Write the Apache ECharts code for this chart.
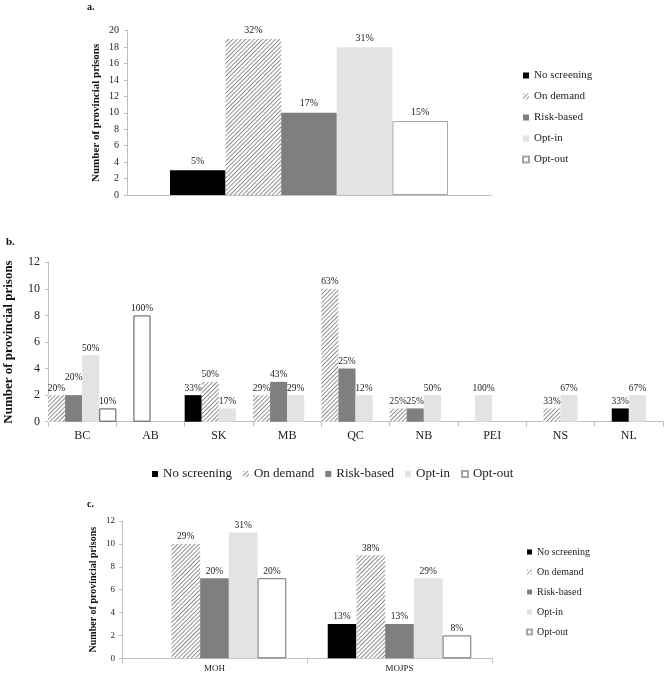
<!DOCTYPE html>
<html><head><meta charset="utf-8">
<script src="https://cdn.jsdelivr.net/npm/echarts@6/dist/echarts.min.js"></script>
<style>html,body{margin:0;padding:0;background:#fff}#c{width:667px;height:674px}</style>
</head><body><div id="c"></div>
<script>
// ---------- DATA ----------
const types = ['No screening', 'On demand', 'Risk-based', 'Opt-in', 'Opt-out'];

// Panel a: all provincial prisons
const valuesA = [3, 19, 10, 18, 9];
const pctA = ['5%', '32%', '17%', '31%', '15%'];

// Panel b: by province
const provinces = ['BC', 'AB', 'SK', 'MB', 'QC', 'NB', 'PEI', 'NS', 'NL'];
const noScreeningB = [0, 0, 2, 0, 0, 0, 0, 0, 1];
const onDemandB    = [2, 0, 3, 2, 10, 1, 0, 1, 0];
const riskBasedB   = [2, 0, 0, 3, 4, 1, 0, 0, 0];
const optInB       = [5, 0, 1, 2, 2, 2, 2, 2, 2];
const optOutB      = [1, 8, 0, 0, 0, 0, 0, 0, 0];
const pctNoScreeningB = ['', '', '33%', '', '', '', '', '', '33%'];
const pctOnDemandB    = ['20%', '', '50%', '29%', '63%', '25%', '', '33%', ''];
const pctRiskBasedB   = ['20%', '', '', '43%', '25%', '25%', '', '', ''];
const pctOptInB       = ['50%', '', '17%', '29%', '12%', '50%', '100%', '67%', '67%'];
const pctOptOutB      = ['10%', '100%', '', '', '', '', '', '', ''];

// Panel c: by ministry
const ministries = ['MOH', 'MOJPS'];
const noScreeningC = [0, 3];
const onDemandC    = [10, 9];
const riskBasedC   = [7, 3];
const optInC       = [11, 7];
const optOutC      = [7, 2];
const pctNoScreeningC = ['', '13%'];
const pctOnDemandC    = ['29%', '38%'];
const pctRiskBasedC   = ['20%', '13%'];
const pctOptInC       = ['31%', '29%'];
const pctOptOutC      = ['20%', '8%'];

// Axis ranges
const yMaxA = 20, yMaxB = 12, yMaxC = 12, yStep = 2;

// ---------- STYLE ----------
const serif = '"Liberation Serif","Times New Roman",serif';
const axisGray = '#bfbfbf';
const hatchDecal = { symbol: 'rect', symbolSize: 1, color: '#8f8f8f', dashArrayX: [1, 0], dashArrayY: [0.8, 1.4], rotation: -Math.PI / 4 };
function styleFor(t, border) {
  switch (t) {
    case 0: return { color: '#000000' };
    case 1: return { color: '#ffffff', decal: hatchDecal };
    case 2: return { color: '#7f7f7f' };
    case 3: return { color: '#e3e3e3' };
    case 4: return { color: '#ffffff', borderColor: border, borderWidth: 1 };
  }
}

// ---------- PANEL a series ----------
const series = [];
types.forEach((name, t) => {
  const d = [valuesA[t]];
  series.push({
    type: 'bar', name, xAxisIndex: 0, yAxisIndex: 0, data: d,
    barGap: 0, barCategoryGap: '23.6%',
    itemStyle: styleFor(t, '#a6a6a6'),
    label: { show: true, position: 'top', distance: 4, fontFamily: serif, fontSize: 10, color: '#222', formatter: () => pctA[t] }
  });
});

// ---------- PANEL b series (bars packed, centred in four slots per province) ----------
const valsB = [noScreeningB, onDemandB, riskBasedB, optInB, optOutB];
const pctB = [pctNoScreeningB, pctOnDemandB, pctRiskBasedB, pctOptInB, pctOptOutB];
const nSlots = 4;
const slots = [];
for (let s = 0; s < nSlots; s++) slots.push(provinces.map(() => '-'));
provinces.forEach((p, i) => {
  const present = [];
  valsB.forEach((arr, t) => { if (arr[i] > 0) present.push(t); });
  const start = Math.floor((nSlots - present.length) / 2);
  present.forEach((t, k) => {
    const item = { value: valsB[t][i], itemStyle: styleFor(t, '#555555'), label: { formatter: pctB[t][i] } };
    if (p === 'BC' && t === 2) item.label.offset = [0, -11];
    slots[start + k][i] = item;
  });
});
slots.forEach((d, s) => {
  series.push({
    type: 'bar', name: 'slot' + s, xAxisIndex: 1, yAxisIndex: 1, data: d,
    barGap: 0, barCategoryGap: 0,
    label: { show: true, position: 'top', distance: 2, fontFamily: serif, fontSize: 9.5, color: '#222' }
  });
});

// ---------- PANEL c series ----------
const valsC = [noScreeningC, onDemandC, riskBasedC, optInC, optOutC];
const pctC = [pctNoScreeningC, pctOnDemandC, pctRiskBasedC, pctOptInC, pctOptOutC];
types.forEach((name, t) => {
  series.push({
    type: 'bar', name, xAxisIndex: 2, yAxisIndex: 2,
    data: valsC[t].map(v => v > 0 ? v : '-'),
    barGap: 0, barCategoryGap: '22.4%',
    itemStyle: styleFor(t, '#6f6f6f'),
    label: { show: true, position: 'top', distance: 2, fontFamily: serif, fontSize: 9.5, color: '#222', formatter: p => pctC[t][p.dataIndex] }
  });
});

function yAxis(gi, max, fs, nameFs, gap, margin) {
  return {
    type: 'value', gridIndex: gi, min: 0, max, interval: yStep,
    name: 'Number of provincial prisons', nameLocation: 'middle', nameGap: gap, nameMoveOverlap: false,
    nameTextStyle: { fontFamily: serif, fontWeight: 'bold', fontSize: nameFs, color: '#111' },
    axisLine: { show: true, lineStyle: { color: axisGray } },
    axisTick: { show: true, length: 3, lineStyle: { color: axisGray } },
    splitLine: { show: false },
    axisLabel: { fontFamily: serif, fontSize: fs, color: '#222', margin }
  };
}
function xAxis(gi, data, fs, margin, tick) {
  return {
    type: 'category', gridIndex: gi, data,
    axisLine: { show: true, lineStyle: { color: axisGray } },
    axisTick: { show: tick, length: 5, lineStyle: { color: axisGray } },
    axisLabel: { show: true, fontFamily: serif, fontSize: fs, color: '#222', margin }
  };
}

const legendBase = {
  data: types, icon: 'rect', selectedMode: false,
  textStyle: { fontFamily: serif, color: '#222' }
};

const option = {
  animation: false,
  backgroundColor: '#ffffff',
  title: [
    { text: 'a.', left: 82, top: -3, textStyle: { fontFamily: serif, fontSize: 10, fontWeight: 'bold', color: '#111' } },
    { text: 'b.', left: 1, top: 232, textStyle: { fontFamily: serif, fontSize: 11, fontWeight: 'bold', color: '#111' } },
    { text: 'c.', left: 82, top: 494, textStyle: { fontFamily: serif, fontSize: 10, fontWeight: 'bold', color: '#111' } }
  ],
  grid: [
    { left: 127, top: 30.7, width: 364, height: 164.3, outerBoundsMode: 'none' },
    { left: 48, top: 262.3, width: 615, height: 159.4, outerBoundsMode: 'none' },
    { left: 122, top: 521, width: 370, height: 137.3, outerBoundsMode: 'none' }
  ],
  xAxis: [
    xAxis(0, [''], 10, 8, false),
    xAxis(1, provinces, 12, 8, true),
    xAxis(2, ministries, 9, 6, true)
  ],
  yAxis: [
    yAxis(0, yMaxA, 10, 11, 25, 8),
    yAxis(1, yMaxB, 12, 13, 33, 8),
    yAxis(2, yMaxC, 9, 10, 24, 7)
  ],
  legend: [
    Object.assign({}, legendBase, { orient: 'vertical', left: 517, top: 64.5, itemWidth: 6, itemHeight: 6, itemGap: 9,
      textStyle: { fontFamily: serif, color: '#222', fontSize: 11, lineHeight: 12 } }),
    Object.assign({}, legendBase, { orient: 'horizontal', left: 147, top: 462, itemWidth: 6, itemHeight: 6, itemGap: 11,
      textStyle: { fontFamily: serif, color: '#222', fontSize: 13, lineHeight: 14 } }),
    Object.assign({}, legendBase, { orient: 'vertical', left: 521, top: 541, itemWidth: 5, itemHeight: 5, itemGap: 8,
      textStyle: { fontFamily: serif, color: '#222', fontSize: 10, lineHeight: 12 } })
  ],
  series
};
const chart = echarts.init(document.getElementById('c'), null, { renderer: 'canvas' });
chart.setOption(option);
</script>
</body></html>
